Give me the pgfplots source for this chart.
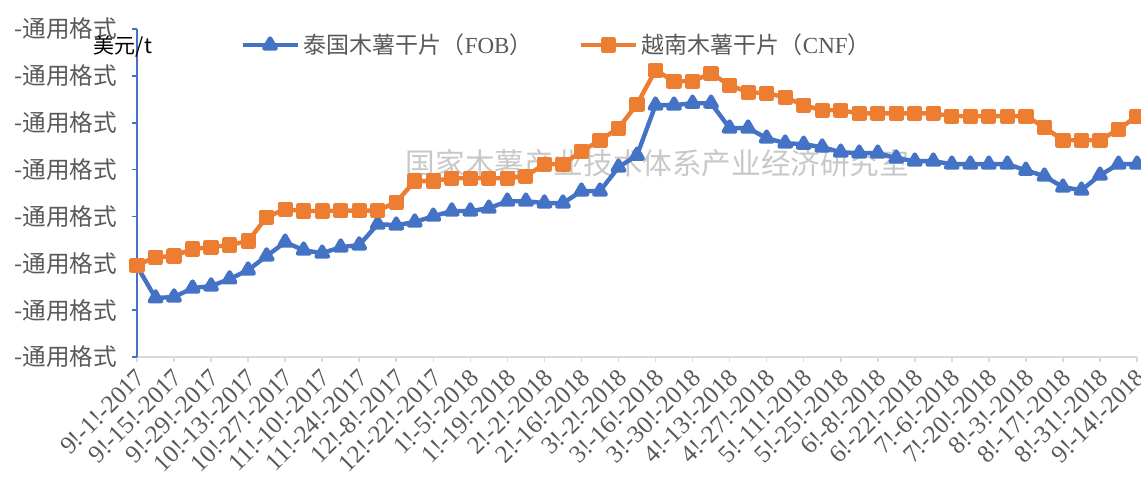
\documentclass[border=0pt]{standalone}
\usepackage{fontspec}
\setmainfont{Liberation Serif}
\newfontfamily\cjk{Noto Sans CJK SC}
\usepackage{pgfplots}
\usepackage{pgfplotstable}
\pgfplotsset{compat=1.18}
\definecolor{tblue}{HTML}{4472C4}
\definecolor{torange}{HTML}{ED7D31}
\definecolor{tgray}{HTML}{595959}
\definecolor{axgray}{HTML}{D9D9D9}
\definecolor{wmgray}{HTML}{C8C8C8}

\pgfplotstableread{
x thai viet
0 198.8 199.2
1 185.2 202.6
2 185.6 203.1
3 189.4 206.1
4 190.3 206.9
5 193.3 207.8
6 197.1 209.5
7 203.1 219.7
8 209.0 223.1
9 205.6 222.3
10 204.3 222.3
11 206.9 222.5
12 207.8 222.5
13 216.7 222.5
14 216.3 226.1
15 217.6 235.1
16 220.1 235.1
17 222.3 236.3
18 222.3 236.3
19 223.5 236.3
20 226.5 236.3
21 226.5 237.2
22 225.7 242.3
23 225.7 242.3
24 230.8 247.8
25 230.8 252.5
26 241.0 257.7
27 246.1 267.9
28 267.5 282.4
29 267.5 277.7
30 268.3 277.7
31 268.3 281.1
32 257.7 276.0
33 257.7 273.0
34 253.4 272.6
35 251.3 270.9
36 250.8 267.5
37 249.6 265.3
38 247.4 265.3
39 247.0 264.0
40 247.0 264.0
41 244.9 264.0
42 243.6 264.0
43 243.6 264.0
44 242.3 262.8
45 242.3 262.8
46 242.3 262.8
47 242.3 262.8
48 239.7 262.8
49 237.2 258.1
50 232.5 252.5
51 231.2 252.5
52 237.6 252.5
53 242.3 257.2
54 242.3 262.8
}\pricedata

\begin{document}
\begin{tikzpicture}
\begin{axis}[
  name=ax,
  scale only axis,
  width=500pt, height=164pt,
  xmin=0, xmax=54, ymin=160, ymax=300,
  axis x line*=bottom, axis y line*=left,
  x axis line style={axgray, line width=1pt},
  y axis line style={tblue, line width=1pt},
  tick align=outside,
  major tick length=2.5pt,
  xtick style={axgray, line width=0.8pt},
  ytick style={tblue, line width=0.8pt},
  ytick={160,180,...,300},
  yticklabel={\cjk -通用格式},
  yticklabel style={font=\fontsize{11.8}{13}\selectfont, text=tgray, xshift=-4pt},
  xtick={0,2,...,54},
  xticklabels={9!-1!-2017,9!-15!-2017,9!-29!-2017,10!-13!-2017,10!-27!-2017,11!-10!-2017,11!-24!-2017,12!-8!-2017,12!-22!-2017,1!-5!-2018,1!-19!-2018,2!-2!-2018,2!-16!-2018,3!-2!-2018,3!-16!-2018,3!-30!-2018,4!-13!-2018,4!-27!-2018,5!-11!-2018,5!-25!-2018,6!-8!-2018,6!-22!-2018,7!-6!-2018,7!-20!-2018,8!-3!-2018,8!-17!-2018,8!-31!-2018,9!-14!-2018},
  xticklabel style={rotate=45, anchor=north east, font=\fontsize{12.5}{13}\selectfont, text=tgray, inner sep=1pt, xshift=-1.5pt},
  legend style={at={(0.097,0.951)}, anchor=west, draw=none, fill=none,
    legend columns=2, font=\fontsize{11.5}{13}\selectfont, text=tgray,
    /tikz/every even column/.append style={column sep=21pt}},
  legend image code/.code={\draw[mark repeat=2,mark phase=2] plot coordinates {(0pt,0pt) (13.75pt,0pt) (27.5pt,0pt)};},
  clip=false,
]
\node[font=\cjk\fontsize{14.8}{16}\selectfont, text=wmgray] at (rel axis cs:0.5205,0.591) {国家木薯产业技术体系产业经济研究室};
\addplot[tblue, line width=2.2pt, line join=round, mark=triangle*, mark size=3.3pt, mark options={solid}] table[x=x,y=thai]{\pricedata};
\addlegendentry{{\cjk 泰国木薯干片（}FOB{\cjk ）}}
\addplot[torange, line width=2.2pt, line join=round, mark=square*, mark size=2.7pt, mark options={solid}] table[x=x,y=viet]{\pricedata};
\addlegendentry{{\cjk 越南木薯干片（}CNF{\cjk ）}}
\node[font=\cjk\fontsize{10.5}{12}\selectfont, text=black, xshift=-7pt, yshift=-9pt] at (rel axis cs:0,1) {美元/t};
\end{axis}
\pgfresetboundingbox
\path ([xshift=-68.5pt,yshift=-62.5pt]ax.south west) rectangle ([xshift=2pt,yshift=14.5pt]ax.north east);
\end{tikzpicture}
\end{document}
